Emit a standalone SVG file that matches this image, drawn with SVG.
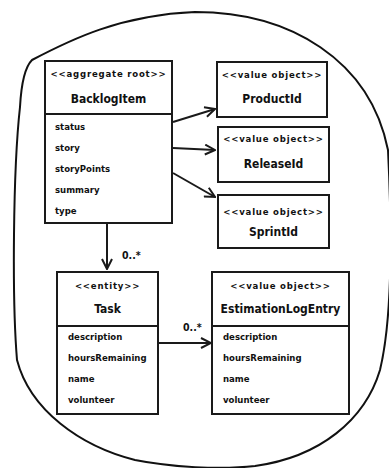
<svg xmlns="http://www.w3.org/2000/svg" width="389" height="468" viewBox="0 0 389 468">
<defs>
<style>
.box{fill:#fff;stroke:#1a1a1a;stroke-width:2}
.div{stroke:#1a1a1a;stroke-width:2}
text{font-family:"DejaVu Sans Condensed","DejaVu Sans",sans-serif;fill:#111;font-weight:bold}
.st{font-size:9.5px;text-anchor:middle;letter-spacing:0.8px}
.nm{font-size:12px;text-anchor:middle}
.at{font-size:9.5px}
.lb{font-size:10.5px}
.con{stroke:#1a1a1a;stroke-width:2;fill:none;marker-end:url(#arr)}
</style>
<marker id="arr" viewBox="0 0 12 12" refX="11" refY="6" markerWidth="12" markerHeight="12" markerUnits="userSpaceOnUse" orient="auto">
<path d="M1,1 L11,6 L1,11" fill="none" stroke="#1a1a1a" stroke-width="2"/>
</marker>
</defs>
<rect width="389" height="468" fill="#fff"/>
<path id="boundary" d="M20,107 Q22,70 32,60 C70,40 120,15 195,12 C290,12 370,60 388,150 C392,230 392,320 380,370 C365,420 320,457 255,466 C220,470 170,467 135,460 C80,446 30,410 17,360 C12,300 13,170 20,107 Z" fill="none" stroke="#111" stroke-width="2"/>
<g id="connectors">
<line class="con" x1="173" y1="122" x2="215" y2="109"/>
<line class="con" x1="173" y1="148" x2="215" y2="150"/>
<line class="con" x1="173" y1="173" x2="215" y2="197"/>
<line class="con" x1="107" y1="223" x2="107" y2="269"/>
<line class="con" x1="158" y1="343" x2="211" y2="343"/>
<text class="lb" x="122" y="259">0..*</text>
<text class="lb" x="183" y="331">0..*</text>
</g>
<g id="BacklogItem">
<rect class="box" x="45" y="61" width="127" height="162"/>
<line class="div" x1="45" y1="114" x2="172" y2="114"/>
<text class="st" x="108.5" y="77">&lt;&lt;aggregate root&gt;&gt;</text>
<text class="nm" x="108.5" y="103">BacklogItem</text>
<text class="at" x="55" y="130">status</text>
<text class="at" x="55" y="151">story</text>
<text class="at" x="55" y="172">storyPoints</text>
<text class="at" x="55" y="193">summary</text>
<text class="at" x="55" y="214">type</text>
</g>
<g id="ProductId">
<rect class="box" x="217" y="62" width="110" height="55"/>
<text class="st" x="272" y="78">&lt;&lt;value object&gt;&gt;</text>
<text class="nm" x="272" y="103">ProductId</text>
</g>
<g id="ReleaseId">
<rect class="box" x="218" y="127" width="111" height="55"/>
<text class="st" x="273.5" y="142">&lt;&lt;value object&gt;&gt;</text>
<text class="nm" x="273.5" y="168">ReleaseId</text>
</g>
<g id="SprintId">
<rect class="box" x="218" y="195" width="111" height="53"/>
<text class="st" x="273.5" y="214.5">&lt;&lt;value object&gt;&gt;</text>
<text class="nm" x="273.5" y="236">SprintId</text>
</g>
<g id="Task">
<rect class="box" x="57" y="272" width="101" height="142"/>
<line class="div" x1="57" y1="326" x2="158" y2="326"/>
<text class="st" x="107.5" y="289">&lt;&lt;entity&gt;&gt;</text>
<text class="nm" x="107.5" y="313">Task</text>
<text class="at" x="68" y="340">description</text>
<text class="at" x="68" y="361">hoursRemaining</text>
<text class="at" x="68" y="382">name</text>
<text class="at" x="68" y="403">volunteer</text>
</g>
<g id="EstimationLogEntry">
<rect class="box" x="212" y="272" width="137" height="142"/>
<line class="div" x1="212" y1="326" x2="349" y2="326"/>
<text class="st" x="280.5" y="289">&lt;&lt;value object&gt;&gt;</text>
<text class="nm" x="280.5" y="313">EstimationLogEntry</text>
<text class="at" x="223" y="340">description</text>
<text class="at" x="223" y="361">hoursRemaining</text>
<text class="at" x="223" y="382">name</text>
<text class="at" x="223" y="403">volunteer</text>
</g>
</svg>
